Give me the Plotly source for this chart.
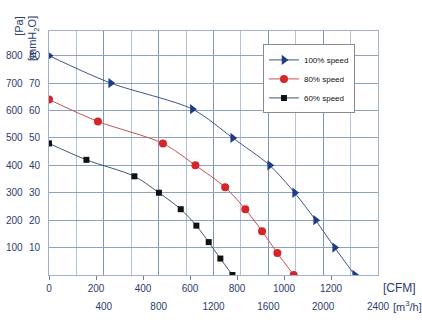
import plotly.graph_objects as go

# Airflow in m3/h, static pressure in Pa
flow100 = [0, 450, 1046, 1340, 1610, 1792, 1945, 2084, 2230]
p100 = [800, 700, 605, 500, 400, 300, 200, 100, 0]
flow80 = [0, 357, 831, 1068, 1285, 1432, 1554, 1666, 1785]
p80 = [640, 560, 480, 400, 320, 240, 160, 80, 0]
flow60 = [0, 273, 623, 802, 961, 1075, 1165, 1250, 1338]
p60 = [480, 420, 360, 300, 240, 180, 120, 60, 0]

pa_ticks = [100, 200, 300, 400, 500, 600, 700, 800]
mmh2o_labels = ["10", "20", "30", "40", "50", "60", "70", "80"]
m3h_ticks = [400, 800, 1200, 1600, 2000, 2400]
cfm_ticks = [0, 200, 400, 600, 800, 1000, 1200]

NAVY = "#2b3d6e"
FONT = "Liberation Sans, Arial, sans-serif"

fig = go.Figure()
fig.add_trace(go.Scatter(x=flow100, y=p100, name="100% speed", mode="lines+markers",
                         line=dict(color="#3b5487", width=1, shape="spline", smoothing=0.8),
                         marker=dict(symbol="triangle-right", size=9, color="#1f3c88")))
fig.add_trace(go.Scatter(x=flow80, y=p80, name="80% speed", mode="lines+markers",
                         line=dict(color="#c85050", width=1, shape="spline", smoothing=0.8),
                         marker=dict(symbol="circle", size=8, color="#d42626")))
fig.add_trace(go.Scatter(x=flow60, y=p60, name="60% speed", mode="lines+markers",
                         line=dict(color="#3d5577", width=1, shape="spline", smoothing=0.8),
                         marker=dict(symbol="square", size=6, color="#111111")))
# empty trace to keep the CFM axis alive
fig.add_trace(go.Scatter(x=[None], y=[None], xaxis="x2", showlegend=False, hoverinfo="skip"))

fig.update_layout(
    width=422, height=324,
    margin=dict(l=49, r=44, t=31, b=49),
    paper_bgcolor="white", plot_bgcolor="white",
    font=dict(family=FONT, size=10, color=NAVY),
    xaxis=dict(range=[0, 2400], tickmode="array", tickvals=m3h_ticks,
               ticktext=[str(v) for v in m3h_ticks],
               showgrid=True, gridcolor="#7f95b5", gridwidth=1,
               minor=dict(tickmode="linear", tick0=0, dtick=200, showgrid=True,
                          gridcolor="#b3c4da", gridwidth=1),
               ticks="", ticklabelstandoff=22,
               showline=True, linecolor="#9fb0c8", mirror=True, zeroline=False,
               tickfont=dict(size=10, color=NAVY)),
    xaxis2=dict(range=[0, 1400], overlaying="x", anchor="y", side="bottom",
                tickmode="array", tickvals=cfm_ticks, ticktext=[str(v) for v in cfm_ticks],
                ticks="outside", ticklen=4, tickcolor="#6a7fa0",
                showgrid=False, zeroline=False, showline=False,
                tickfont=dict(size=10, color=NAVY)),
    yaxis=dict(range=[0, 890], tickmode="array", tickvals=pa_ticks, ticktext=mmh2o_labels,
               showgrid=True, gridcolor="#8ea3c0", gridwidth=1,
               ticks="", ticklabelstandoff=6,
               showline=True, linecolor="#9fb0c8", mirror=True, zeroline=False,
               tickfont=dict(size=10, color=NAVY)),
    legend=dict(x=0.93, y=0.945, xanchor="right", yanchor="top",
                bgcolor="white", bordercolor="#8a8a8a", borderwidth=1,
                font=dict(size=8, color="#111111"), itemwidth=30,
                tracegroupgap=0),
    showlegend=True,
)

# Pa tick labels (second column)
for p in pa_ticks:
    fig.add_annotation(x=-0.073, y=p, xref="paper", yref="y", text=str(p),
                       showarrow=False, xanchor="right", yanchor="middle",
                       font=dict(size=10, color=NAVY))

fig.add_annotation(x=-0.092, y=1.02, xref="paper", yref="paper", text="[Pa]",
                   textangle=-90, showarrow=False, xanchor="center", yanchor="middle",
                   font=dict(size=11, color=NAVY))
fig.add_annotation(x=-0.048, y=0.968, xref="paper", yref="paper", text="[mmH<sub>2</sub>O]",
                   textangle=-90, showarrow=False, xanchor="center", yanchor="middle",
                   font=dict(size=11, color=NAVY))
fig.add_annotation(x=1.1216, y=-0.053, xref="paper", yref="paper", text="[CFM]",
                   showarrow=False, xanchor="right", yanchor="middle",
                   font=dict(size=12, color=NAVY))
fig.add_annotation(x=1.04, y=-0.128, xref="paper", yref="paper", text="[m<sup>3</sup>/h]",
                   showarrow=False, xanchor="left", yanchor="middle",
                   font=dict(size=11, color=NAVY))

fig.write_html("out.html")
